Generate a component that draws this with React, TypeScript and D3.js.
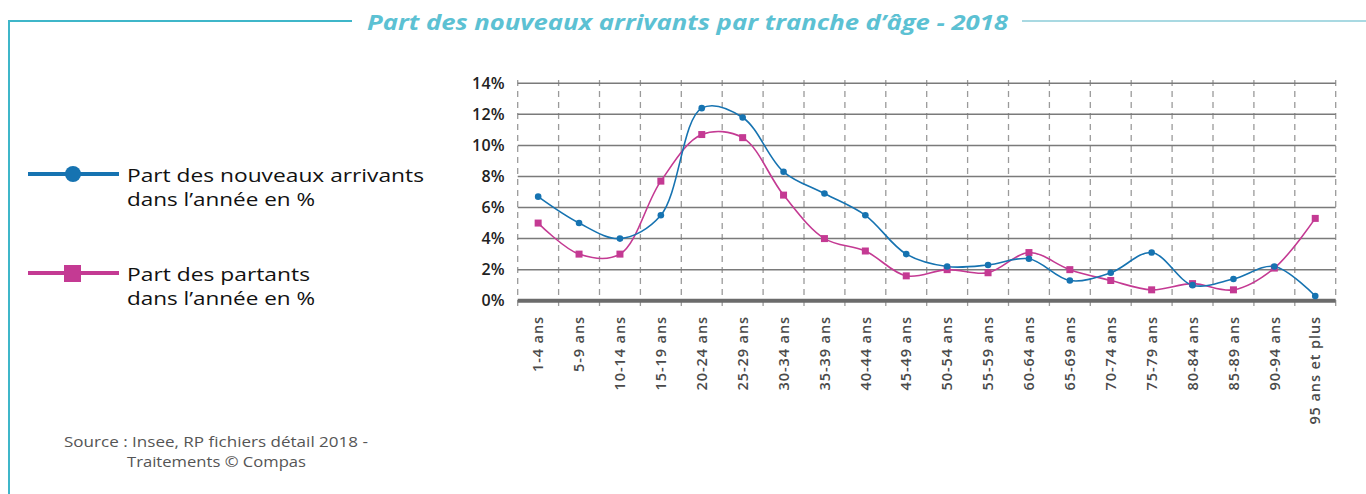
import React, { useEffect, useRef } from "react";
import * as d3 from "d3";

const categories = ["1-4 ans", "5-9 ans", "10-14 ans", "15-19 ans", "20-24 ans", "25-29 ans", "30-34 ans", "35-39 ans", "40-44 ans", "45-49 ans", "50-54 ans", "55-59 ans", "60-64 ans", "65-69 ans", "70-74 ans", "75-79 ans", "80-84 ans", "85-89 ans", "90-94 ans", "95 ans et plus"];
const arrivants = [6.7, 5.0, 4.0, 5.5, 12.4, 11.8, 8.3, 6.9, 5.5, 3.0, 2.2, 2.3, 2.7, 1.3, 1.8, 3.1, 1.0, 1.4, 2.2, 0.3];
const partants = [5.0, 3.0, 3.0, 7.7, 10.7, 10.5, 6.8, 4.0, 3.2, 1.6, 2.0, 1.8, 3.1, 2.0, 1.3, 0.7, 1.1, 0.7, 2.1, 5.3];
const yTicks = [0, 2, 4, 6, 8, 10, 12, 14];

const BLUE = "#1673b1";
const PINK = "#c43a93";
const TEAL = "#3fb6c9";
const FONT = "'Open Sans', sans-serif";

export default function App() {
  const ref = useRef<SVGSVGElement>(null);

  useEffect(() => {
    const svg = d3.select(ref.current);
    svg.selectAll("*").remove();

    const left = 517.7, right = 1335.7, top = 83.3, bottom = 300.7;
    const x = d3.scaleBand<string>().domain(categories).range([left, right]);
    const y = d3.scaleLinear().domain([0, 14]).range([bottom, top]);
    const cx = (d: string) => (x(d) as number) + x.bandwidth() / 2;

    // frame + title
    svg.append("line").attr("x1", 8).attr("x2", 352).attr("y1", 21).attr("y2", 21)
      .attr("stroke", TEAL).attr("stroke-width", 2);
    svg.append("line").attr("x1", 1022).attr("x2", 1366).attr("y1", 21).attr("y2", 21)
      .attr("stroke", "#a9d9e2").attr("stroke-width", 2);
    svg.append("line").attr("x1", 9).attr("x2", 9).attr("y1", 20).attr("y2", 494)
      .attr("stroke", TEAL).attr("stroke-width", 2);
    svg.append("text").attr("x", 367).attr("y", 29.5)
      .attr("font-family", FONT).attr("font-size", 21.5).attr("font-weight", 700)
      .attr("font-style", "italic").attr("fill", "#5cc1d3")
      .attr("textLength", 641).attr("lengthAdjust", "spacingAndGlyphs")
      .text("Part des nouveaux arrivants par tranche d\u2019âge - 2018");

    // vertical dashed lines
    const g = svg.append("g");
    d3.range(categories.length + 1).forEach(i => {
      const xx = left + i * x.step();
      g.append("line").attr("x1", xx).attr("x2", xx).attr("y1", 80).attr("y2", 306)
        .attr("stroke", "#9a9a9a").attr("stroke-width", 1.3).attr("stroke-dasharray", "6,5");
    });

    // horizontal gridlines
    yTicks.forEach(t => {
      g.append("line").attr("x1", left).attr("x2", right).attr("y1", y(t)).attr("y2", y(t))
        .attr("stroke", t === 0 ? "#6b6b6b" : "#7a7a7a").attr("stroke-width", t === 0 ? 4 : 1.5);
      g.append("text").attr("x", 505).attr("y", y(t)).attr("dy", "0.36em").attr("text-anchor", "end")
        .attr("font-family", FONT).attr("font-size", 16).attr("font-weight", 600).attr("fill", "#222")
        .attr("letter-spacing", 0.3)
        .text(t + "%");
    });

    // x labels
    categories.forEach(c => {
      g.append("text").attr("transform", `translate(${cx(c)},316) rotate(-90)`)
        .attr("text-anchor", "end").attr("dy", "0.36em")
        .attr("font-family", FONT).attr("font-size", 14.5).attr("font-weight", 600)
        .attr("letter-spacing", 0.9).attr("fill", "#4a4a4a").text(c);
    });

    const line = d3.line<number>()
      .x((_, i) => cx(categories[i]))
      .y(d => y(d))
      .curve(d3.curveCatmullRom.alpha(0.5));

    svg.append("path").attr("d", line(partants)).attr("fill", "none")
      .attr("stroke", PINK).attr("stroke-width", 1.6);
    svg.append("path").attr("d", line(arrivants)).attr("fill", "none")
      .attr("stroke", BLUE).attr("stroke-width", 1.6);

    svg.selectAll(".sq").data(partants).enter().append("rect")
      .attr("x", (_, i) => cx(categories[i]) - 3.5).attr("y", d => y(d) - 3.5)
      .attr("width", 7).attr("height", 7).attr("fill", PINK);
    svg.selectAll(".dot").data(arrivants).enter().append("circle")
      .attr("cx", (_, i) => cx(categories[i])).attr("cy", d => y(d))
      .attr("r", 3.3).attr("fill", BLUE);

    // legend
    const leg = svg.append("g");
    leg.append("line").attr("x1", 28).attr("x2", 119).attr("y1", 174).attr("y2", 174)
      .attr("stroke", BLUE).attr("stroke-width", 4);
    leg.append("circle").attr("cx", 73).attr("cy", 174).attr("r", 8).attr("fill", BLUE);
    leg.append("line").attr("x1", 28).attr("x2", 119).attr("y1", 273).attr("y2", 273)
      .attr("stroke", PINK).attr("stroke-width", 4);
    leg.append("rect").attr("x", 64).attr("y", 265).attr("width", 17).attr("height", 17).attr("fill", PINK);
    const legText = [
      ["Part des nouveaux arrivants", 182, 297], ["dans l\u2019année en %", 206, 188],
      ["Part des partants", 281, 183], ["dans l\u2019année en %", 305, 188],
    ] as [string, number, number][];
    legText.forEach(([t, yy, w]) => {
      leg.append("text").attr("x", 127).attr("y", yy).attr("font-family", FONT)
        .attr("font-size", 17.5).attr("font-weight", 500).attr("fill", "#111")
        .attr("textLength", w).attr("lengthAdjust", "spacingAndGlyphs").text(t);
    });

    // source
    svg.append("text").attr("x", 64).attr("y", 447).attr("font-family", FONT).attr("font-size", 14)
      .attr("fill", "#555").attr("textLength", 304).attr("lengthAdjust", "spacingAndGlyphs")
      .text("Source : Insee, RP fichiers détail 2018 -");
    svg.append("text").attr("x", 127).attr("y", 467).attr("font-family", FONT).attr("font-size", 14)
      .attr("fill", "#555").attr("textLength", 179).attr("lengthAdjust", "spacingAndGlyphs")
      .text("Traitements © Compas");
  }, []);

  return (
    <svg ref={ref} width={1366} height={494}
      style={{ position: "absolute", left: 0, top: 0, background: "#fff" }} />
  );
}
